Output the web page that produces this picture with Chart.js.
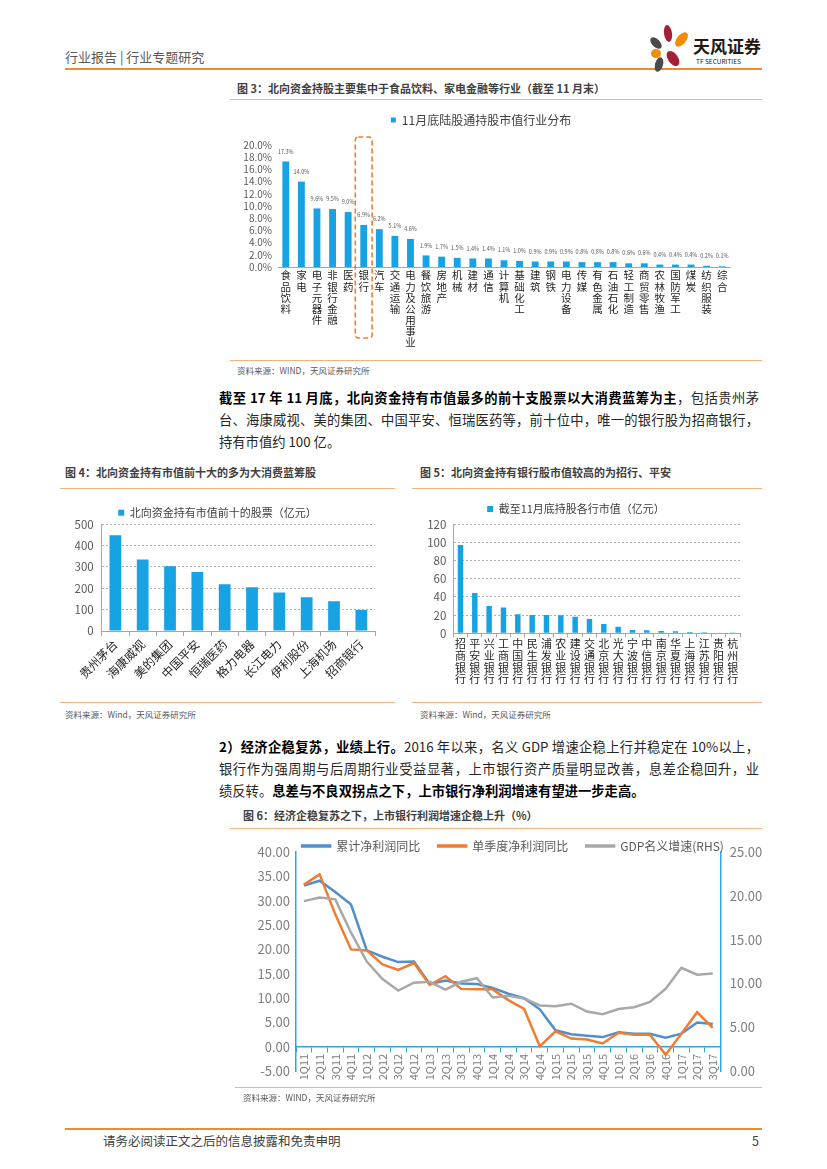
<!DOCTYPE html>
<html lang="zh-CN">
<head>
<meta charset="utf-8">
<title>北向资金持股</title>
<script src="https://cdn.jsdelivr.net/npm/chart.js@4.4.1/dist/chart.umd.min.js"></script>
<style>
html,body{margin:0;padding:0;background:#fff;}
body{width:827px;height:1169px;position:relative;overflow:hidden;font-family:"Noto Sans CJK SC","Noto Sans",sans-serif;color:#262626;}
.t{position:absolute;white-space:nowrap;}
.rule{position:absolute;height:1px;background:#F4B183;}
.ftitle{font-size:11px;font-weight:700;color:#404040;line-height:16px;}
.src{font-size:8.5px;color:#595959;line-height:12px;}
.para{position:absolute;left:219px;width:540px;font-size:13.3px;line-height:22px;color:#262626;}
.para .ln{white-space:nowrap;text-align:justify;text-align-last:justify;}
.para .ln.last{text-align:left;text-align-last:left;}
.para b{font-weight:700;color:#000;}
canvas{position:absolute;}
.petal{position:absolute;border-radius:50%;}
</style>
</head>
<body>

<!-- header -->
<div class="t" style="left:65px;top:48px;font-size:13px;line-height:18px;color:#595959;">行业报告 | 行业专题研究</div>
<div style="position:absolute;left:65px;top:68px;width:697px;height:2px;background:#EB8C34;"></div>
<div class="petal" style="left:664px;top:25px;width:8px;height:17px;background:#A61F38;transform:rotate(-8deg);"></div>
<div class="petal" style="left:677px;top:31px;width:9px;height:17px;background:#F18D00;transform:rotate(40deg);"></div>
<div class="petal" style="left:652px;top:36px;width:8px;height:14px;background:#4A4A4A;transform:rotate(-45deg);"></div>
<div class="petal" style="left:651px;top:49px;width:10px;height:9px;background:#F18D00;"></div>
<div class="petal" style="left:668px;top:50px;width:10px;height:17px;background:#A61F38;transform:rotate(-35deg);"></div>
<div class="petal" style="left:655px;top:57px;width:8px;height:15px;background:#4A4A4A;transform:rotate(15deg);"></div>
<div class="t" style="left:693px;top:35px;font-size:17px;line-height:22px;font-weight:700;color:#231815;">天风证券</div>
<div class="t" style="left:696px;top:57px;font-size:6.5px;line-height:8px;color:#231815;">TF SECURITIES</div>

<!-- figure 3 -->
<div class="t ftitle" style="left:237px;top:80px;">图 3：北向资金持股主要集中于食品饮料、家电金融等行业（截至 11 月末）</div>
<div class="rule" style="left:230px;top:99px;width:532px;"></div>
<canvas id="c3" width="520" height="246" style="left:232px;top:108px;width:520px;height:246px;"></canvas>
<div class="rule" style="left:230px;top:360px;width:532px;"></div>
<div class="t src" style="left:237px;top:364px;">资料来源：WIND，天风证券研究所</div>

<div class="para" style="top:387px;">
  <div class="ln"><b>截至 17 年 11 月底，北向资金持有市值最多的前十支股票以大消费蓝筹为主</b>，包括贵州茅</div>
  <div class="ln">台、海康威视、美的集团、中国平安、恒瑞医药等，前十位中，唯一的银行股为招商银行，</div>
  <div class="ln last">持有市值约 100 亿。</div>
</div>

<!-- figure 4 / 5 -->
<div class="t ftitle" style="left:65px;top:464px;">图 4：北向资金持有市值前十大的多为大消费蓝筹股</div>
<div class="rule" style="left:60px;top:488px;width:335px;"></div>
<canvas id="c4" width="335" height="205" style="left:60px;top:497px;width:335px;height:205px;"></canvas>
<div class="rule" style="left:60px;top:702px;width:335px;"></div>
<div class="t src" style="left:65px;top:708px;">资料来源：Wind，天风证券研究所</div>

<div class="t ftitle" style="left:420px;top:464px;">图 5：北向资金持有银行股市值较高的为招行、平安</div>
<div class="rule" style="left:412px;top:488px;width:350px;"></div>
<canvas id="c5" width="340" height="205" style="left:412px;top:497px;width:340px;height:205px;"></canvas>
<div class="rule" style="left:412px;top:702px;width:350px;"></div>
<div class="t src" style="left:420px;top:708px;">资料来源：Wind，天风证券研究所</div>

<div class="para" style="top:736px;">
  <div class="ln"><b>2）经济企稳复苏，业绩上行。</b>2016 年以来，名义 GDP 增速企稳上行并稳定在 10%以上，</div>
  <div class="ln">银行作为强周期与后周期行业受益显著，上市银行资产质量明显改善，息差企稳回升，业</div>
  <div class="ln last">绩反转。<b>息差与不良双拐点之下，上市银行净利润增速有望进一步走高。</b></div>
</div>

<!-- figure 6 -->
<div class="t ftitle" style="left:243px;top:807px;">图 6：经济企稳复苏之下，上市银行利润增速企稳上升（%）</div>
<div class="rule" style="left:230px;top:828px;width:532px;"></div>
<canvas id="c6" width="540" height="254" style="left:232px;top:834px;width:540px;height:254px;"></canvas>
<div class="rule" style="left:235px;top:1087px;width:527px;"></div>
<div class="t src" style="left:243px;top:1091px;">资料来源：WIND，天风证券研究所</div>

<!-- footer -->
<div style="position:absolute;left:65px;top:1128px;width:697px;height:2px;background:#EB8C34;"></div>
<div class="t" style="left:103px;top:1132px;font-size:12.5px;line-height:18px;color:#404040;">请务必阅读正文之后的信息披露和免责申明</div>
<div class="t" style="left:752px;top:1132px;font-size:12.5px;line-height:18px;color:#404040;">5</div>

<script>
// ---------------- data ----------------
const industryLegend = '11月底陆股通持股市值行业分布';
const industryLabels = ['食品饮料','家电','电子元器件','非银行金融','医药','银行','汽车','交通运输','电力及公用事业','餐饮旅游','房地产','机械','建材','通信','计算机','基础化工','建筑','钢铁','电力设备','传媒','有色金属','石油石化','轻工制造','商贸零售','农林牧渔','国防军工','煤炭','纺织服装','综合'];
const industryShare = [17.3,14.0,9.6,9.5,9.0,6.9,6.2,5.1,4.6,1.9,1.7,1.5,1.4,1.4,1.1,1.0,0.9,0.9,0.9,0.8,0.8,0.8,0.6,0.6,0.4,0.4,0.4,0.2,0.1];
const highlightIndustry = '银行';

const stockLegend = '北向资金持有市值前十的股票（亿元）';
const stockNames = ['贵州茅台','海康威视','美的集团','中国平安','恒瑞医药','格力电器','长江电力','伊利股份','上海机场','招商银行'];
const stockValues = [449,335,304,277,219,205,180,158,139,98];

const bankLegend = '截至11月底持股各行市值（亿元）';
const bankNames = ['招商银行','平安银行','兴业银行','工商银行','中国银行','民生银行','浦发银行','农业银行','建设银行','交通银行','北京银行','光大银行','宁波银行','中信银行','南京银行','华夏银行','上海银行','江苏银行','贵阳银行','杭州银行'];
const bankValues = [97.2,44.4,30.1,28.3,20.9,20.2,20.2,19.8,18.3,15.8,10.3,7.3,3.7,3.3,2.6,2.2,1.5,1.1,0.7,0.3];

const quarters = ['1Q11','2Q11','3Q11','4Q11','1Q12','2Q12','3Q12','4Q12','1Q13','2Q13','3Q13','4Q13','1Q14','2Q14','3Q14','4Q14','1Q15','2Q15','3Q15','4Q15','1Q16','2Q16','3Q16','4Q16','1Q17','2Q17','3Q17'];
const cumProfitYoY = [33.1,34.1,31.8,29.2,19.8,18.5,17.4,17.5,12.9,13.6,13.0,12.9,12.1,10.9,10.0,7.7,3.4,2.6,2.3,2.0,3.0,2.7,2.7,1.9,2.7,5.0,4.7];
const qtrProfitYoY = [33.3,35.4,27.2,20.0,19.8,16.9,15.8,17.2,12.7,14.5,11.9,11.8,11.8,9.6,7.8,0.1,3.2,1.7,1.5,0.7,2.9,2.5,2.5,-1.6,2.7,7.1,3.9];
const nominalGDP = [19.4,19.8,19.6,15.8,12.5,10.5,9.2,10.1,10.2,9.3,10.2,10.6,8.4,8.6,8.3,7.5,7.4,7.7,6.8,6.5,7.1,7.3,7.9,9.4,11.8,11.0,11.15];
const lineSeriesNames = ['累计净利润同比','单季度净利润同比','GDP名义增速(RHS)'];

// ---------------- helpers ----------------
Chart.defaults.font.family = "'Noto Sans CJK SC','Noto Sans',sans-serif";
const stackChars = s => Array.from(s);

// fixes the legend box height and shifts its drawing (without clipping)
function legendTweak(height, dx, dy){
  return { id:'legendTweak', afterInit(chart){
    const lg = chart.legend; if(!lg) return;
    const fit = lg.fit;
    lg.fit = function(){ fit.call(this); this.height = height; };
    lg.draw = function(){
      if (!this.options.display) return;
      const c = this.ctx; c.save(); c.translate(dx, dy); this._draw(); c.restore();
    };
  }};
}

const shareLabels = { id:'shareLabels', afterDatasetsDraw(chart){
  const ctx = chart.ctx, meta = chart.getDatasetMeta(0), data = chart.data.datasets[0].data;
  ctx.save();
  ctx.font = "5.5px 'Noto Sans CJK SC', sans-serif";
  ctx.fillStyle = '#595959'; ctx.textAlign = 'center'; ctx.textBaseline = 'middle';
  meta.data.forEach((bar, i) => ctx.fillText(data[i].toFixed(1) + '%', bar.x, bar.y - 10));
  ctx.restore();
}};

const bankHighlight = { id:'bankHighlight', afterDraw(chart){
  const xs = chart.scales.x, ca = chart.chartArea, ctx = chart.ctx;
  const idx = industryLabels.indexOf(highlightIndustry);
  const cx = xs.getPixelForTick(idx);
  const half = (ca.right - ca.left) / industryLabels.length * 0.54;
  const x = cx - half, y = ca.top - 8, w = half * 2, h = (ca.bottom - ca.top) + 79, r = 3;
  ctx.save();
  ctx.strokeStyle = '#ED7D31'; ctx.lineWidth = 1.6; ctx.setLineDash([5, 3]);
  ctx.beginPath();
  ctx.moveTo(x + r, y); ctx.lineTo(x + w - r, y); ctx.arcTo(x + w, y, x + w, y + r, r);
  ctx.lineTo(x + w, y + h - r); ctx.arcTo(x + w, y + h, x + w - r, y + h, r);
  ctx.lineTo(x + r, y + h); ctx.arcTo(x, y + h, x, y + h - r, r);
  ctx.lineTo(x, y + r); ctx.arcTo(x, y, x + r, y, r);
  ctx.stroke();
  ctx.restore();
}};

const common = { responsive:false, animation:false, devicePixelRatio:1, events:[] };

// ---------------- chart 3 ----------------
new Chart(document.getElementById('c3'), {
  type:'bar',
  data:{ labels: industryLabels.map(stackChars),
    datasets:[{ label: industryLegend, data: industryShare, backgroundColor:'#16A2E3', barPercentage:0.44, categoryPercentage:1 }] },
  options:{ ...common,
    layout:{ padding:{ left:0, right:22, top:0, bottom:0 } },
    plugins:{ legend:{ labels:{ boxWidth:5, boxHeight:5, padding:6, color:'#404040', font:{ size:12 } } }, tooltip:{ enabled:false } },
    scales:{
      x:{ grid:{ display:false, drawTicks:false }, border:{ display:true, color:'#A6A6A6' },
          ticks:{ autoSkip:false, maxRotation:0, minRotation:0, padding:3, color:'#1F1F1F', font:{ size:10.5, lineHeight:1.05 } },
          afterFit(s){ s.height = 87; } },
      y:{ min:0, max:20, grid:{ display:false, drawTicks:false }, border:{ display:false },
          ticks:{ stepSize:2, autoSkip:false, padding:6, color:'#595959', font:{ size:10 }, callback:v => v.toFixed(1) + '%' },
          afterFit(s){ s.width = 46; } }
    }
  },
  plugins:[ legendTweak(37, 0, 0), shareLabels, bankHighlight ]
});

// ---------------- chart 4 ----------------
new Chart(document.getElementById('c4'), {
  type:'bar',
  data:{ labels: stockNames,
    datasets:[{ label: stockLegend, data: stockValues, backgroundColor:'#16A2E3', barPercentage:0.43, categoryPercentage:1 }] },
  options:{ ...common,
    layout:{ padding:{ left:0, right:20, top:0, bottom:0 } },
    plugins:{ legend:{ labels:{ boxWidth:6, boxHeight:6, padding:6, color:'#404040', font:{ size:11 } } }, tooltip:{ enabled:false } },
    scales:{
      x:{ grid:{ display:true, drawOnChartArea:false, drawTicks:true, tickLength:5, offset:true, color:'#A6A6A6' },
          border:{ display:true, color:'#A6A6A6' },
          ticks:{ autoSkip:false, maxRotation:45, minRotation:45, padding:1, color:'#262626', font:{ size:12 } },
          afterFit(s){ s.height = 71; } },
      y:{ min:0, max:500, grid:{ color:'#B0B0B0', drawTicks:false }, border:{ display:true, color:'#A6A6A6', dash:[2,2] },
          ticks:{ stepSize:100, autoSkip:false, padding:8, color:'#595959', font:{ size:11.5 } },
          afterFit(s){ s.width = 41.7; } }
    }
  },
  plugins:[ legendTweak(27.3, 0, 4.2) ]
});

// ---------------- chart 5 ----------------
new Chart(document.getElementById('c5'), {
  type:'bar',
  data:{ labels: bankNames.map(stackChars),
    datasets:[{ label: bankLegend, data: bankValues, backgroundColor:'#16A2E3', barPercentage:0.38, categoryPercentage:1 }] },
  options:{ ...common,
    layout:{ padding:{ left:0, right:12, top:0, bottom:0 } },
    plugins:{ legend:{ labels:{ boxWidth:6, boxHeight:6, padding:6, color:'#404040', font:{ size:11 } } }, tooltip:{ enabled:false } },
    scales:{
      x:{ grid:{ display:true, drawOnChartArea:false, drawTicks:true, tickLength:4, offset:true, color:'#A6A6A6' },
          border:{ display:true, color:'#A6A6A6' },
          ticks:{ autoSkip:false, maxRotation:0, minRotation:0, padding:1, color:'#262626', font:{ size:11, lineHeight:1.06 } },
          afterFit(s){ s.height = 68.7; } },
      y:{ min:0, max:120, grid:{ color:'#B0B0B0', drawTicks:false }, border:{ display:true, color:'#A6A6A6', dash:[2,2] },
          ticks:{ stepSize:20, autoSkip:false, padding:7, color:'#595959', font:{ size:11.5 } },
          afterFit(s){ s.width = 41.3; } }
    }
  },
  plugins:[ legendTweak(27.3, 0, 0.5) ]
});

// ---------------- chart 6 ----------------
const axisBlue = '#2FA6DE';
new Chart(document.getElementById('c6'), {
  type:'line',
  data:{ labels: quarters,
    datasets:[
      { label: lineSeriesNames[0], data: cumProfitYoY, yAxisID:'y', borderColor:'#4F8FCE', backgroundColor:'#4F8FCE', borderWidth:2.5, pointRadius:0, order:3 },
      { label: lineSeriesNames[1], data: qtrProfitYoY, yAxisID:'y', borderColor:'#EE7D31', backgroundColor:'#EE7D31', borderWidth:2.5, pointRadius:0, order:2 },
      { label: lineSeriesNames[2], data: nominalGDP, yAxisID:'y1', borderColor:'#A8A8A8', backgroundColor:'#A8A8A8', borderWidth:2.5, pointRadius:0, order:1 }
    ] },
  options:{ ...common,
    layout:{ padding:{ left:0, right:0, top:0, bottom:14.7 } },
    plugins:{ legend:{ labels:{ boxWidth:28, boxHeight:1, padding:18, color:'#595959', font:{ size:12 },
                               sort:(a, b) => a.datasetIndex - b.datasetIndex } },
              tooltip:{ enabled:false } },
    scales:{
      x:{ position:{ y:0 }, offset:true,
          grid:{ display:true, drawOnChartArea:false, drawTicks:true, tickLength:5, offset:true, color:axisBlue },
          border:{ display:true, color:axisBlue, width:1.5 },
          ticks:{ autoSkip:false, maxRotation:90, minRotation:90, padding:2, color:'#7F7F7F', font:{ size:11 } } },
      y:{ position:'left', min:-5, max:40, grid:{ display:false, drawTicks:false }, border:{ display:true, color:axisBlue, width:1.5 },
          ticks:{ stepSize:5, autoSkip:false, padding:6, color:'#7F7F7F', font:{ size:13 }, callback:v => v.toFixed(2) },
          afterFit(s){ s.width = 64; } },
      y1:{ position:'right', min:0, max:25, grid:{ display:false, drawTicks:false }, border:{ display:true, color:axisBlue, width:1.5 },
          ticks:{ stepSize:5, autoSkip:false, padding:9, color:'#7F7F7F', font:{ size:13 }, callback:v => v.toFixed(2) },
          afterFit(s){ s.width = 51.3; } }
    }
  },
  plugins:[ legendTweak(18, 11, -12) ]
});
</script>
</body>
</html>
